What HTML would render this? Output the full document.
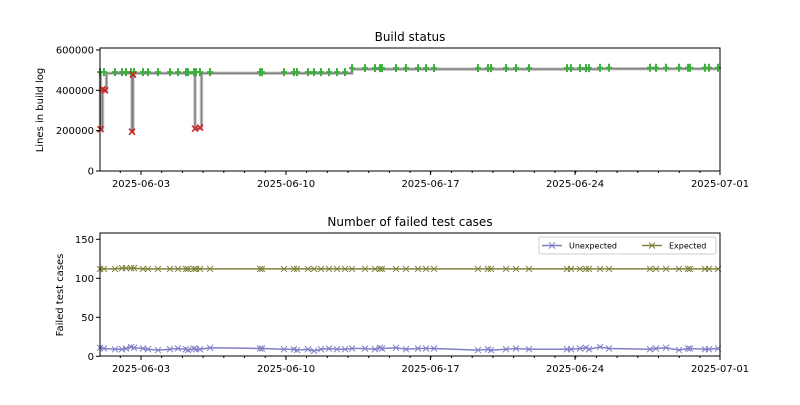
<!DOCTYPE html>
<html><head><meta charset="utf-8"><style>
body{margin:0;background:#fff;font-family:"Liberation Sans","DejaVu Sans",sans-serif}
svg text{font-family:"DejaVu Sans","Liberation Sans",sans-serif}
</style></head><body>
<svg id="s" width="800" height="400" xmlns="http://www.w3.org/2000/svg"></svg>
<script>
const s=document.getElementById('s');let h='';
const xs=[100,104,115,122,126,131,134,143,148,158,170,178,186,188,194,196,200,210,260,262,284,294,297,308,314,321,329,337,345,352,365,375,380,382,396,406,418,426,434,478,488,491,506,516,529,567,571,580,586,589,600,609,650,656,666,679,688,690,705,709,718];
const ty=v=>171-v*0.2017/1000;
let pts=[];xs.forEach(x=>pts.push([x,x<350?485000:(x<600?505000:507000)]));
const fails=[[100.5,207000],[102.5,405000],[105,400000],[132,195000],[133,478000],[195,210000],[200,215000]];
const skip=[100,104,196,200];
let all=pts.filter(p=>!skip.includes(p[0])).concat(fails).concat([[99.5,485000],[106.5,485000],[201.5,485000]]).sort((a,b)=>a[0]-b[0]);
let d='M'+all[0][0]+','+ty(all[0][1]).toFixed(1);
for(let i=1;i<all.length;i++){d+=' H'+all[i][0]+' V'+ty(all[i][1]).toFixed(1);}
h+=`<path d="${d}" fill="none" stroke="#c8c8c8" stroke-width="3.5"/>`;
h+=`<path d="${d}" fill="none" stroke="#808080" stroke-width="1.5"/>`;
pts.forEach(p=>{const y=ty(p[1])-1;h+=`<path d="M${p[0]-3},${y}h6M${p[0]},${y-4}v8" stroke="#3cb03c" stroke-width="2"/>`;});
fails.forEach(p=>{const y=ty(p[1]);h+=`<path d="M${p[0]-3},${y-3}l6,6M${p[0]-3},${y+3}l6,-6" stroke="#d02020" stroke-width="1.5"/>`;});
function axes(top,bot){h+=`<rect x="100" y="${top}" width="620" height="${bot-top}" fill="none" stroke="#000" stroke-width="1"/>`;
[[141,'2025-06-03'],[286,'2025-06-10'],[430.5,'2025-06-17'],[575,'2025-06-24'],[720,'2025-07-01']].forEach(t=>{h+=`<line x1="${t[0]}" x2="${t[0]}" y1="${bot}" y2="${bot+4}" stroke="#000"/><text x="${t[0]}" y="${bot+16}" font-size="10" text-anchor="middle">${t[1]}</text>`;});
for(let x=141-20.7*2;x<720;x+=20.7){if(x>=100)h+=`<line x1="${x.toFixed(1)}" x2="${x.toFixed(1)}" y1="${bot}" y2="${bot+2}" stroke="#000"/>`;}}
axes(48,171);
[[0,'0'],[200000,'200000'],[400000,'400000'],[600000,'600000']].forEach(t=>{const y=ty(t[0]);h+=`<line x1="96" x2="100" y1="${y}" y2="${y}" stroke="#000"/><text x="94" y="${y+3.5}" font-size="10" text-anchor="end">${t[1]}</text>`;});
h+=`<text x="410" y="41" font-size="12" text-anchor="middle">Build status</text>`;
h+=`<text transform="translate(43,110) rotate(-90)" font-size="10" text-anchor="middle">Lines in build log</text>`;
const by=v=>356.3-v*0.78;
const ev=xs.map(x=>[x,(x>115&&x<135)?113:112]);
const uv=xs.map((x,i)=>[x,[11,10,9,9,10,12,11,10,9,8,9,10,9,8,10,9,9,11,10,10,9,9,8,9,7,9,10,9,9,10,10,9,11,10,11,9,10,10,10,8,9,8,9,10,9,9,9,10,11,9,12,10,9,10,11,8,10,10,9,9,10][i]]);
function series(arr,c){h+=`<polyline fill="none" stroke="${c}" stroke-width="1.5" points="${arr.map(p=>p[0]+','+by(p[1]).toFixed(1)).join(' ')}"/>`;
arr.forEach(p=>{const y=by(p[1]);h+=`<path d="M${p[0]-3},${y-3}l6,6M${p[0]-3},${y+3}l6,-6" stroke="${c}" stroke-width="1"/>`;});}
series(ev,'#80803a');series(uv,'#8080c8');
axes(233,356);
[[0,'0'],[50,'50'],[100,'100'],[150,'150']].forEach(t=>{const y=by(t[0]);h+=`<line x1="96" x2="100" y1="${y}" y2="${y}" stroke="#000"/><text x="94" y="${y+3.5}" font-size="10" text-anchor="end">${t[1]}</text>`;});
h+=`<text x="410" y="226" font-size="12" text-anchor="middle">Number of failed test cases</text>`;
h+=`<text transform="translate(63,295) rotate(-90)" font-size="10" text-anchor="middle">Failed test cases</text>`;
h+=`<rect x="539" y="237" width="177" height="17" fill="#fff" stroke="#ccc" rx="2"/>`;
h+=`<line x1="542" x2="562" y1="245.5" y2="245.5" stroke="#8080c8" stroke-width="1.5"/><path d="M549,242.5l6,6M549,248.5l6,-6" stroke="#8080c8"/><text x="569" y="248.5" font-size="8">Unexpected</text>`;
h+=`<line x1="642" x2="662" y1="245.5" y2="245.5" stroke="#80803a" stroke-width="1.5"/><path d="M649,242.5l6,6M649,248.5l6,-6" stroke="#80803a"/><text x="669" y="248.5" font-size="8">Expected</text>`;
s.innerHTML=h;
</script>
</body></html>
